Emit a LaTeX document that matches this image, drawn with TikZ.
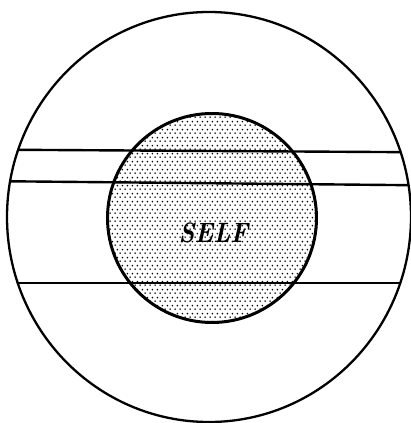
\documentclass[tikz,border=0pt]{standalone}
\usepackage{fontspec}
\usetikzlibrary{patterns.meta}
\tikzdeclarepattern{
  name=selfdots,
  type=uncolored,
  bounding box={(0pt,0pt) and (5.2pt,8pt)},
  tile size={(5.2pt,8pt)},
  code={
    \fill (1.3pt,2pt) circle (1pt);
    \fill (3.9pt,6pt) circle (1pt);
  }
}
\tikzset{
  ring/.style={line width=2.3pt, draw=black},
  selfdisc/.style={line width=3pt, draw=black, pattern={selfdots}, pattern color=black},
  band/.style={line width=2.4pt, draw=black},
}
\begin{document}
\begin{tikzpicture}[x=1pt,y=1pt]
  \useasboundingbox (0,0) rectangle (411,423);
  \coordinate (oc) at (209,206);
  \coordinate (ic) at (212,205);
  % self disc
  \path[selfdisc] (ic) circle (104.5);
  % bands, clipped to the outer circle
  \begin{scope}
    \clip (oc) ellipse [x radius=202, y radius=205];
    \coordinate (a1) at (0,273.3);
    \coordinate (b1) at (411,270.8);
    \coordinate (a2) at (0,241.8);
    \coordinate (b2) at (411,237.8);
    \coordinate (a3) at (0,140);
    \coordinate (b3) at (411,140);
    \draw[band] (a1) -- (b1);
    \draw[band] (a2) -- (b2);
    \draw[band] (a3) -- (b3);
  \end{scope}
  \draw[ring] (oc) ellipse [x radius=202, y radius=205];
  \node[font=\fontsize{28}{30}\selectfont\bfseries\itshape, xscale=0.88, inner sep=0pt] (self) at (213.5,190.5) {SELF};
\end{tikzpicture}
\end{document}
